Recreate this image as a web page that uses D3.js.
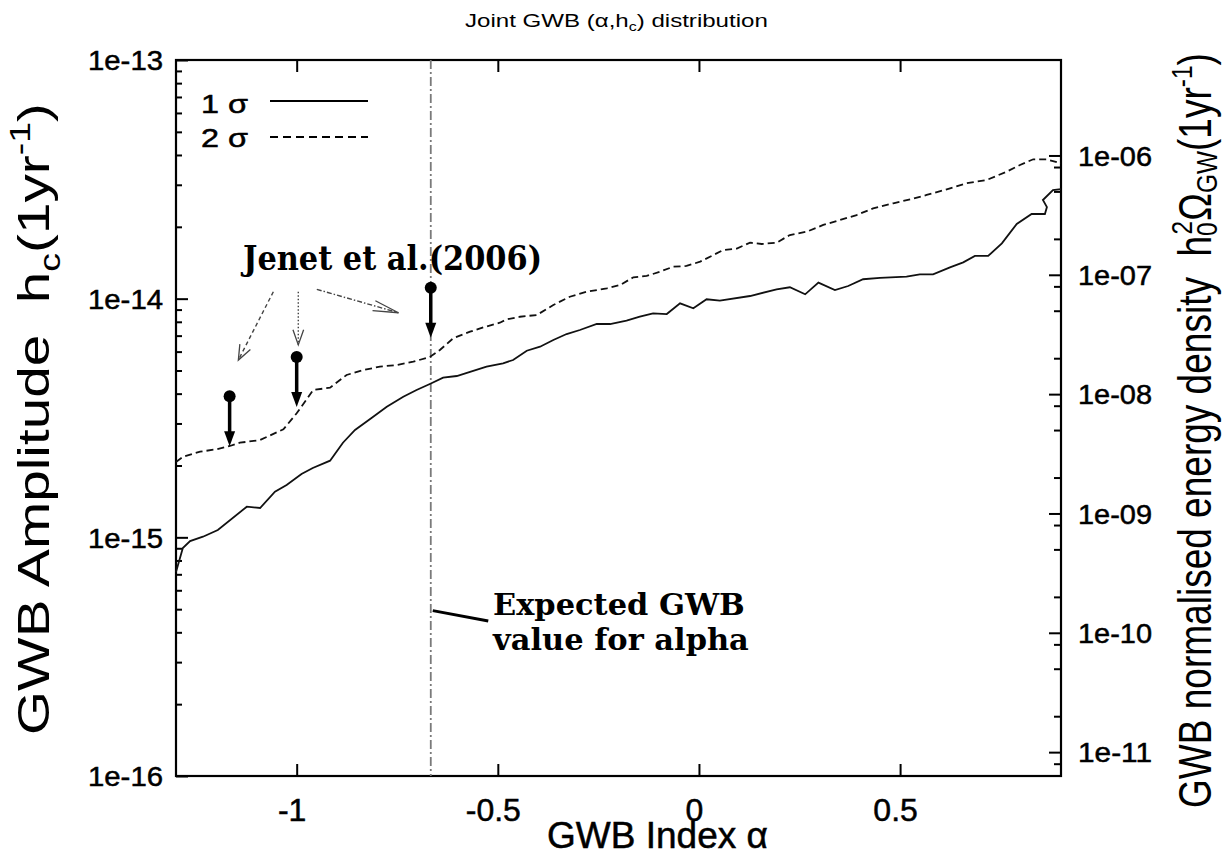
<!DOCTYPE html>
<html>
<head>
<meta charset="utf-8">
<script src="https://cdn.jsdelivr.net/npm/d3@7"></script>
<style>
  body { margin: 0; background: #fff; }
  text { font-family: "Liberation Sans", Arial, sans-serif; fill: #000; }
  .heavy { stroke: #000; stroke-width: 0.5px; }
</style>
</head>
<body>
<div id="chart"></div>
<script>
// 1 sigma contour (solid)
var alpha1 = [-1.300, -1.283, -1.265, -1.233, -1.196, -1.124, -1.091, -1.054, -1.025, -0.988,
  -0.960, -0.917, -0.885, -0.855, -0.814, -0.776, -0.735, -0.702, -0.669, -0.636,
  -0.602, -0.569, -0.528, -0.487, -0.462, -0.428, -0.395, -0.362, -0.329, -0.296,
  -0.254, -0.221, -0.180, -0.147, -0.114, -0.080, -0.047, -0.014, 0.019, 0.052,
  0.127, 0.193, 0.226, 0.264, 0.297, 0.338, 0.371, 0.408, 0.450, 0.516,
  0.549, 0.582, 0.624, 0.657, 0.686, 0.719, 0.753, 0.790, 0.827, 0.860,
  0.865, 0.855, 0.880, 0.900];
var hc1 = [7.16e-16, 9.02e-16, 9.65e-16, 1.006e-15, 1.073e-15, 1.344e-15, 1.327e-15, 1.553e-15, 1.657e-15, 1.842e-15,
  1.952e-15, 2.095e-15, 2.491e-15, 2.817e-15, 3.162e-15, 3.526e-15, 3.884e-15, 4.143e-15, 4.39e-15, 4.667e-15,
  4.742e-15, 4.93e-15, 5.19e-15, 5.36e-15, 5.534e-15, 6.05e-15, 6.29e-15, 6.71e-15, 7.11e-15, 7.39e-15,
  7.83e-15, 7.83e-15, 8.09e-15, 8.40e-15, 8.68e-15, 8.62e-15, 9.56e-15, 9.11e-15, 9.94e-15, 9.81e-15,
  1.026e-14, 1.095e-14, 1.116e-14, 1.043e-14, 1.167e-14, 1.087e-14, 1.130e-14, 1.206e-14, 1.221e-14, 1.236e-14,
  1.265e-14, 1.265e-14, 1.353e-14, 1.420e-14, 1.510e-14, 1.510e-14, 1.706e-14, 2.056e-14, 2.263e-14, 2.263e-14,
  2.421e-14, 2.59e-14, 2.852e-14, 2.88e-14];

// 2 sigma contour (dashed)
var alpha2 = [-1.300, -1.282, -1.240, -1.199, -1.166, -1.141, -1.091, -1.033, -1.000, -0.959,
  -0.917, -0.876, -0.834, -0.793, -0.751, -0.710, -0.669, -0.644, -0.611, -0.569,
  -0.536, -0.495, -0.478, -0.445, -0.403, -0.362, -0.321, -0.279, -0.229, -0.196,
  -0.163, -0.130, -0.097, -0.064, -0.031, 0.003, 0.036, 0.060, 0.094, 0.127,
  0.156, 0.193, 0.226, 0.268, 0.309, 0.351, 0.392, 0.433, 0.483, 0.525,
  0.566, 0.616, 0.665, 0.715, 0.765, 0.798, 0.831, 0.864, 0.900];
var hc2 = [2.069e-15, 2.177e-15, 2.285e-15, 2.339e-15, 2.414e-15, 2.491e-15, 2.557e-15, 2.836e-15, 3.309e-15, 4.143e-15,
  4.236e-15, 4.789e-15, 5.025e-15, 5.19e-15, 5.275e-15, 5.446e-15, 5.698e-15, 6.093e-15, 6.823e-15, 7.272e-15,
  7.586e-15, 7.93e-15, 8.19e-15, 8.40e-15, 8.54e-15, 9.41e-15, 1.019e-14, 1.069e-14, 1.105e-14, 1.141e-14,
  1.229e-14, 1.245e-14, 1.297e-14, 1.361e-14, 1.371e-14, 1.429e-14, 1.524e-14, 1.599e-14, 1.622e-14, 1.716e-14,
  1.695e-14, 1.716e-14, 1.848e-14, 1.908e-14, 2.036e-14, 2.136e-14, 2.241e-14, 2.39e-14, 2.509e-14, 2.608e-14,
  2.719e-14, 2.873e-14, 3.044e-14, 3.142e-14, 3.404e-14, 3.631e-14, 3.837e-14, 3.837e-14, 3.69e-14];

// Jenet et al. (2006) upper limits
var limitAlpha = [-1.1667, -1.0, -0.6667];
var limitHc = [3.9e-15, 5.7e-15, 1.11e-14];
var expectedAlpha = -2 / 3;

// ticks
var xTicks = [-1, -0.5, 0, 0.5];
var xTickLabels = ['-1', '-0.5', '0', '0.5'];
var leftTicks = [1e-16, 1e-15, 1e-14, 1e-13];
var leftTickLabels = ['1e-16', '1e-15', '1e-14', '1e-13'];
var rightTicks = [1e-11, 1e-10, 1e-9, 1e-8, 1e-7, 1e-6];
var rightTickLabels = ['1e-11', '1e-10', '1e-09', '1e-08', '1e-07', '1e-06'];
var rightMinorMult = [2, 5, 8];

var svgWidth = 1226;
var svgHeight = 855;
var margin = { top: 60, right: 165, bottom: 79, left: 176 };
var width = svgWidth - margin.left - margin.right;
var height = svgHeight - margin.top - margin.bottom;

var svg = d3.select('#chart').append('svg')
  .attr('width', svgWidth)
  .attr('height', svgHeight)
  .style('background', '#fff');

var chartGroup = svg.append('g')
  .attr('transform', `translate(${margin.left}, ${margin.top})`);

var x = d3.scaleLinear().domain([-1.3, 0.9]).range([0, width]);
var yLeft = d3.scaleLog().domain([1e-16, 1e-13]).range([height, 0]);
var yRight = d3.scaleLog().domain([Math.pow(10, -11.2), Math.pow(10, -5.2)]).range([height, 0]);

// text helper: parts are [string, 'sub'|'sup'|'', dx], stretched to a given length
function richText(parent, px, py, rot, parts, size, len, family, weight, subShift) {
  var g = parent.append('g').attr('transform', `translate(${px},${py}) rotate(${rot})`);
  var t = g.append('text').attr('font-size', size).style('white-space', 'pre');
  if (family) t.style('font-family', family);
  if (weight) t.attr('font-weight', weight);
  var shift = 0;
  parts.forEach(function (p) {
    var s = p[1] === 'sub' ? size * (subShift || 0.24) : p[1] === 'sup' ? -size * 0.42 : 0;
    var ts = t.append('tspan').text(p[0]).attr('dy', s - shift);
    if (p[1]) ts.attr('font-size', size * 0.66);
    if (p[2]) ts.attr('dx', p[2]);
    shift = s;
  });
  var natural = t.node().getBBox().width;
  t.attr('transform', `scale(${len / natural},1)`);
  return t;
}

// axes
var bottomAxis = d3.axisBottom(x).tickValues(xTicks).tickSize(-12)
  .tickFormat((d, i) => xTickLabels[i]);
var xAxis = chartGroup.append('g')
  .attr('transform', `translate(0, ${height})`)
  .call(bottomAxis);
xAxis.selectAll('text').attr('y', 45).attr('dy', 0).attr('x', -5)
  .attr('font-size', 32).attr('class', 'heavy')
  .style('font-family', '"Liberation Sans", Arial, sans-serif');

chartGroup.append('g').call(d3.axisTop(x).tickValues(xTicks).tickSize(-12).tickFormat(''));

var leftAxis = d3.axisLeft(yLeft).tickValues(leftTicks).tickSize(-12).tickPadding(13)
  .tickFormat((d, i) => leftTickLabels[i]);
var yAxis = chartGroup.append('g').call(leftAxis);
yAxis.selectAll('text').attr('font-size', 27).attr('dy', '0.36em').attr('class', 'heavy')
  .attr('textLength', 75).attr('lengthAdjust', 'spacingAndGlyphs')
  .style('font-family', '"Liberation Sans", Arial, sans-serif');

var leftMinor = yLeft.ticks().filter(d => leftTicks.indexOf(d) < 0);
chartGroup.append('g').call(d3.axisLeft(yLeft).tickValues(leftMinor).tickSize(-6).tickFormat(''));

var rightAxis = d3.axisRight(yRight).tickValues(rightTicks).tickSize(-12).tickPadding(17)
  .tickFormat((d, i) => rightTickLabels[i]);
var yAxis2 = chartGroup.append('g').attr('transform', `translate(${width}, 0)`).call(rightAxis);
yAxis2.selectAll('text').attr('font-size', 27).attr('dy', '0.36em').attr('class', 'heavy')
  .attr('textLength', 74).attr('lengthAdjust', 'spacingAndGlyphs')
  .style('font-family', '"Liberation Sans", Arial, sans-serif');

var rightMinor = [];
[1e-12, 1e-11, 1e-10, 1e-9, 1e-8, 1e-7].forEach(function (dec) {
  rightMinorMult.forEach(function (m) {
    var v = dec * m;
    if (v > yRight.domain()[0] && v < 1e-6) rightMinor.push(v);
  });
});
chartGroup.append('g').attr('transform', `translate(${width}, 0)`)
  .call(d3.axisRight(yRight).tickValues(rightMinor).tickSize(-7).tickFormat(''));

chartGroup.selectAll('.domain').remove();
chartGroup.selectAll('.tick line').attr('stroke', '#000').attr('stroke-width', 2);

// frame
chartGroup.append('rect')
  .attr('width', width).attr('height', height)
  .attr('fill', 'none').attr('stroke', '#000').attr('stroke-width', 2.2);

// expected alpha line
chartGroup.append('line')
  .attr('x1', x(expectedAlpha)).attr('x2', x(expectedAlpha))
  .attr('y1', 0).attr('y2', height)
  .attr('stroke', '#7a7a7a').attr('stroke-width', 1.8)
  .attr('stroke-dasharray', '9,3,2,3');

// contours
var line = d3.line().x(d => x(d[0])).y(d => yLeft(d[1]));
chartGroup.append('path')
  .datum(d3.zip(alpha2, hc2))
  .attr('d', line)
  .attr('fill', 'none').attr('stroke', '#111').attr('stroke-width', 1.8)
  .attr('stroke-dasharray', '7,4');
chartGroup.append('path')
  .datum(d3.zip(alpha1, hc1))
  .attr('d', line)
  .attr('fill', 'none').attr('stroke', '#111').attr('stroke-width', 1.8);

// upper limits with down arrows
var limits = chartGroup.selectAll('.limit').data(d3.zip(limitAlpha, limitHc)).enter()
  .append('g').attr('class', 'limit');
limits.append('line')
  .attr('x1', d => x(d[0])).attr('x2', d => x(d[0]))
  .attr('y1', d => yLeft(d[1])).attr('y2', d => yLeft(d[1] / 1.62) - 12)
  .attr('stroke', '#000').attr('stroke-width', 3.5);
limits.append('path')
  .attr('d', function (d) {
    var cx = x(d[0]), tip = yLeft(d[1] / 1.62);
    return `M${cx - 5.5},${tip - 15}L${cx + 5.5},${tip - 15}L${cx},${tip}Z`;
  })
  .attr('fill', '#000');
limits.append('circle')
  .attr('cx', d => x(d[0])).attr('cy', d => yLeft(d[1]))
  .attr('r', 6).attr('fill', '#000');

// annotation arrows from the Jenet label
var noteArrows = [
  { from: [-1.058, 1.069e-14], to: [-1.145, 5.53e-15], dash: '4,3', head: 16, ang: 0.38 },
  { from: [-0.996, 1.069e-14], to: [-0.996, 6.40e-15], dash: '1.5,2', head: 16, ang: 0.34 },
  { from: [-0.950, 1.094e-14], to: [-0.747, 8.73e-15], dash: '5,2,1.5,2', head: 26, ang: 0.2 }
];
noteArrows.forEach(function (a) {
  var x1 = x(a.from[0]), y1 = yLeft(a.from[1]), x2 = x(a.to[0]), y2 = yLeft(a.to[1]);
  var th = Math.atan2(y2 - y1, x2 - x1);
  chartGroup.append('line')
    .attr('x1', x1).attr('y1', y1).attr('x2', x2).attr('y2', y2)
    .attr('stroke', '#444').attr('stroke-width', 1.4).attr('stroke-dasharray', a.dash);
  var hx1 = x2 - a.head * Math.cos(th - a.ang), hy1 = y2 - a.head * Math.sin(th - a.ang);
  var hx2 = x2 - a.head * Math.cos(th + a.ang), hy2 = y2 - a.head * Math.sin(th + a.ang);
  chartGroup.append('path')
    .attr('d', `M${hx1},${hy1}L${x2},${y2}L${hx2},${hy2}`)
    .attr('fill', 'none').attr('stroke', '#444').attr('stroke-width', 1.3);
});

// leader line for expected value
chartGroup.append('line')
  .attr('x1', x(expectedAlpha) + 2).attr('y1', yLeft(4.93e-16))
  .attr('x2', x(-0.5237)).attr('y2', yLeft(4.46e-16))
  .attr('stroke', '#000').attr('stroke-width', 3);

var serif = '"DejaVu Serif", serif';
richText(svg, 243, 270, 0, [['Jenet et al.(2006)']], 33, 302, serif, 'bold');
richText(svg, 493, 615, 0, [['Expected GWB']], 30, 252, serif, 'bold');
richText(svg, 493, 650, 0, [['value for alpha']], 30, 257, serif, 'bold');

// legend
richText(svg, 201, 113, 0, [['1 σ']], 26, 47).attr('class', 'heavy');
richText(svg, 201, 147, 0, [['2 σ']], 26, 47).attr('class', 'heavy');
svg.append('line').attr('x1', 270).attr('x2', 368).attr('y1', 101).attr('y2', 101)
  .attr('stroke', '#000').attr('stroke-width', 1.8);
svg.append('line').attr('x1', 270).attr('x2', 368).attr('y1', 137).attr('y2', 137)
  .attr('stroke', '#000').attr('stroke-width', 1.8).attr('stroke-dasharray', '8,5');

// titles
richText(svg, 465, 27, 0, [['Joint GWB (α,h'], ['c', 'sub'], [') distribution']], 18, 303);
richText(svg, 547, 848, 0, [['GWB Index α']], 36, 221).attr('class', 'heavy');
richText(svg, 49, 735, -90,
  [['GWB Amplitude  h'], ['c', 'sub'], ['(1yr'], ['-1', 'sup'], [')']], 45, 632);
richText(svg, 1211, 808, -90,
  [['GWB normalised energy density  h'], ['0', 'sub'], ['2', 'sup', -15], ['Ω'], ['GW', 'sub'], ['(1yr'], ['-1', 'sup'], [')']],
  46, 755, null, null, 0.14);
</script>
</body>
</html>
